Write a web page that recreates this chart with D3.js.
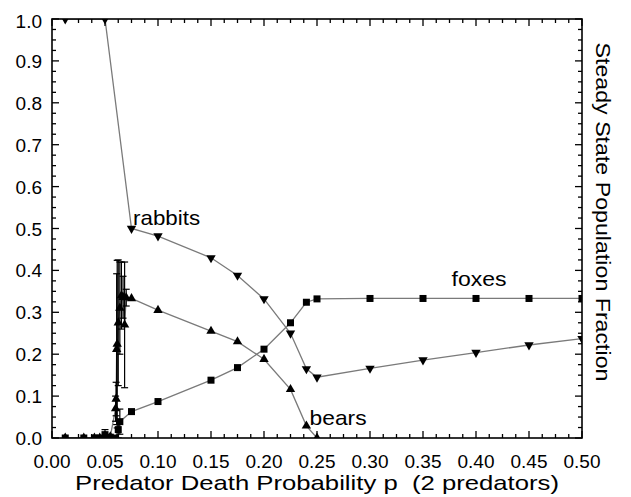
<!DOCTYPE html>
<html><head><meta charset="utf-8">
<script src="https://cdn.jsdelivr.net/npm/d3@7"></script>
<style>
html,body{margin:0;padding:0;background:#fff;}
svg{display:block;font-family:"Liberation Sans",Arial,Helvetica,sans-serif;}
</style></head>
<body>
<svg id="chart" width="631" height="497"></svg>
<script>
// ---- data ----
const xTicks = [0, 0.05, 0.10, 0.15, 0.20, 0.25, 0.30, 0.35, 0.40, 0.45, 0.50];
const yTicks = [0, 0.1, 0.2, 0.3, 0.4, 0.5, 0.6, 0.7, 0.8, 0.9, 1.0];

const rabbitP = [0.0125, 0.05, 0.075, 0.10, 0.15, 0.175, 0.20, 0.225, 0.24, 0.25, 0.30, 0.35, 0.40, 0.45, 0.50];
const rabbitV = [1.0, 1.0, 0.50, 0.482, 0.43, 0.388, 0.332, 0.25, 0.165, 0.145, 0.166, 0.186, 0.204, 0.222, 0.237];

const foxP = [0.0125, 0.03, 0.04, 0.045, 0.05, 0.055, 0.06, 0.0625, 0.064, 0.075, 0.10, 0.15, 0.175, 0.20, 0.225, 0.24, 0.25, 0.30, 0.35, 0.40, 0.45, 0.50];
const foxV = [0, 0, 0, 0, 0.008, 0.002, 0.0, 0.02, 0.039, 0.063, 0.087, 0.138, 0.168, 0.212, 0.275, 0.324, 0.332, 0.333, 0.333, 0.333, 0.333, 0.333];
const foxE = [0, 0, 0, 0, 0.012, 0, 0, 0.02, 0.03, 0, 0, 0, 0, 0, 0, 0, 0, 0, 0, 0, 0, 0];

const bearP = [0.0125, 0.03, 0.04, 0.045, 0.05, 0.055, 0.06, 0.0605, 0.061, 0.0615, 0.0625, 0.064, 0.0655, 0.067, 0.0685, 0.07, 0.075, 0.10, 0.15, 0.175, 0.20, 0.225, 0.24, 0.25];
const bearV = [0, 0, 0, 0, 0.002, 0.003, 0.07, 0.093, 0.212, 0.224, 0.275, 0.31, 0.34, 0.336, 0.27, 0.335, 0.333, 0.305, 0.255, 0.23, 0.188, 0.116, 0.029, 0.0];
const bearE = [0, 0, 0, 0, 0, 0, 0.03, 0.04, 0.18, 0.2, 0.15, 0.11, 0.08, 0.05, 0.15, 0.02, 0, 0, 0, 0, 0, 0, 0, 0];

const labels = [
  {text: "rabbits", p: 0.0765, v: 0.508, w: 67},
  {text: "foxes", p: 0.377, v: 0.363, w: 55},
  {text: "bears", p: 0.243, v: 0.031, w: 57}
];

// ---- layout ----
const svg = d3.select("#chart");
const x = d3.scaleLinear().domain([0, 0.5]).range([52, 582]);
const y = d3.scaleLinear().domain([0, 1]).range([438, 19]);
const x0 = x(0), x1 = x(0.5), y0 = y(0), y1 = y(1);

svg.append("defs").append("clipPath").attr("id", "plotclip")
  .append("rect").attr("x", x0).attr("y", y1).attr("width", x1 - x0).attr("height", y0 - y1);
const plot = svg.append("g").attr("clip-path", "url(#plotclip)");

const lineCol = "#7a7a7a";

function series(P, V) { return P.map((p, i) => ({p, v: V[i]})); }
const rabbits = series(rabbitP, rabbitV);
const foxes = series(foxP, foxV).map((d, i) => ({...d, e: foxE[i]}));
const bears = series(bearP, bearV).map((d, i) => ({...d, e: bearE[i]}));

const line = d3.line().x(d => x(d.p)).y(d => y(d.v));

[rabbits, foxes, bears].forEach(s => {
  plot.append("path").datum(s).attr("d", line)
    .attr("fill", "none").attr("stroke", lineCol).attr("stroke-width", 1.3);
});

// error bars
function errBars(s) {
  const g = plot.append("g").attr("stroke", "#000").attr("stroke-width", 1.2);
  s.filter(d => d.e > 0).forEach(d => {
    const lo = Math.max(0, d.v - d.e), hi = d.v + d.e;
    g.append("line").attr("x1", x(d.p)).attr("x2", x(d.p)).attr("y1", y(lo)).attr("y2", y(hi));
    g.append("line").attr("x1", x(d.p) - 3.5).attr("x2", x(d.p) + 3.5).attr("y1", y(hi)).attr("y2", y(hi));
    g.append("line").attr("x1", x(d.p) - 3.5).attr("x2", x(d.p) + 3.5).attr("y1", y(lo)).attr("y2", y(lo));
  });
}
errBars(bears);
errBars(foxes);

// markers
const triUp = d3.symbol().type(d3.symbolTriangle).size(38);
plot.append("g").selectAll("path").data(bears).join("path")
  .attr("d", triUp).attr("transform", d => `translate(${x(d.p)},${y(d.v)})`).attr("fill", "#000");
plot.append("g").selectAll("path").data(rabbits).join("path")
  .attr("d", triUp).attr("transform", d => `translate(${x(d.p)},${y(d.v)}) rotate(180)`).attr("fill", "#000");
plot.append("g").selectAll("rect").data(foxes).join("rect")
  .attr("x", d => x(d.p) - 3.5).attr("y", d => y(d.v) - 3.5)
  .attr("width", 7).attr("height", 7).attr("fill", "#000");

// frame
svg.append("rect").attr("x", x0).attr("y", y1).attr("width", x1 - x0).attr("height", y0 - y1)
  .attr("fill", "none").attr("stroke", "#000").attr("stroke-width", 1.6);

// ticks
const xMinor = d3.range(0, 0.5001, 0.0125);
const yMinor = d3.range(0, 1.0001, 0.025);
const tg = svg.append("g").attr("stroke", "#000").attr("stroke-width", 1.3);
function isMajor(v, step) { return Math.abs(v / step - Math.round(v / step)) < 1e-6; }
xMinor.forEach(v => {
  const L = isMajor(v, 0.05) ? 7 : 4;
  tg.append("line").attr("x1", x(v)).attr("x2", x(v)).attr("y1", y0).attr("y2", y0 - L);
  tg.append("line").attr("x1", x(v)).attr("x2", x(v)).attr("y1", y1).attr("y2", y1 + L);
});
yMinor.forEach(v => {
  const L = isMajor(v, 0.1) ? 7 : 4;
  tg.append("line").attr("x1", x0).attr("x2", x0 + L).attr("y1", y(v)).attr("y2", y(v));
  tg.append("line").attr("x1", x1).attr("x2", x1 - L).attr("y1", y(v)).attr("y2", y(v));
});

// tick labels
svg.append("g").selectAll("text").data(xTicks).join("text")
  .attr("x", d => x(d)).attr("y", y0 + 30).attr("text-anchor", "middle")
  .attr("font-size", 19).attr("fill", "#000").text(d => d.toFixed(2));
svg.append("g").selectAll("text").data(yTicks).join("text")
  .attr("x", x0 - 10).attr("y", d => y(d) + (d === 1 ? 9 : 7)).attr("text-anchor", "end")
  .attr("font-size", 19).attr("fill", "#000").text(d => d.toFixed(1));

// series labels
svg.append("g").selectAll("text").data(labels).join("text")
  .attr("x", d => x(d.p)).attr("y", d => y(d.v)).attr("font-size", 21).attr("fill", "#000")
  .attr("textLength", d => d.w).attr("lengthAdjust", "spacingAndGlyphs")
  .text(d => d.text);

// axis titles
svg.append("text").attr("x", (x0 + x1) / 2).attr("y", 490).attr("text-anchor", "middle")
  .attr("font-size", 21).attr("fill", "#000")
  .attr("textLength", 484).attr("lengthAdjust", "spacingAndGlyphs")
  .text("Predator Death Probability p\u00a0 (2 predators)");
svg.append("text").attr("transform", `translate(596,212) rotate(90)`).attr("text-anchor", "middle")
  .attr("font-size", 20).attr("fill", "#000")
  .attr("textLength", 339).attr("lengthAdjust", "spacingAndGlyphs")
  .text("Steady State Population Fraction");
</script>
</body></html>
